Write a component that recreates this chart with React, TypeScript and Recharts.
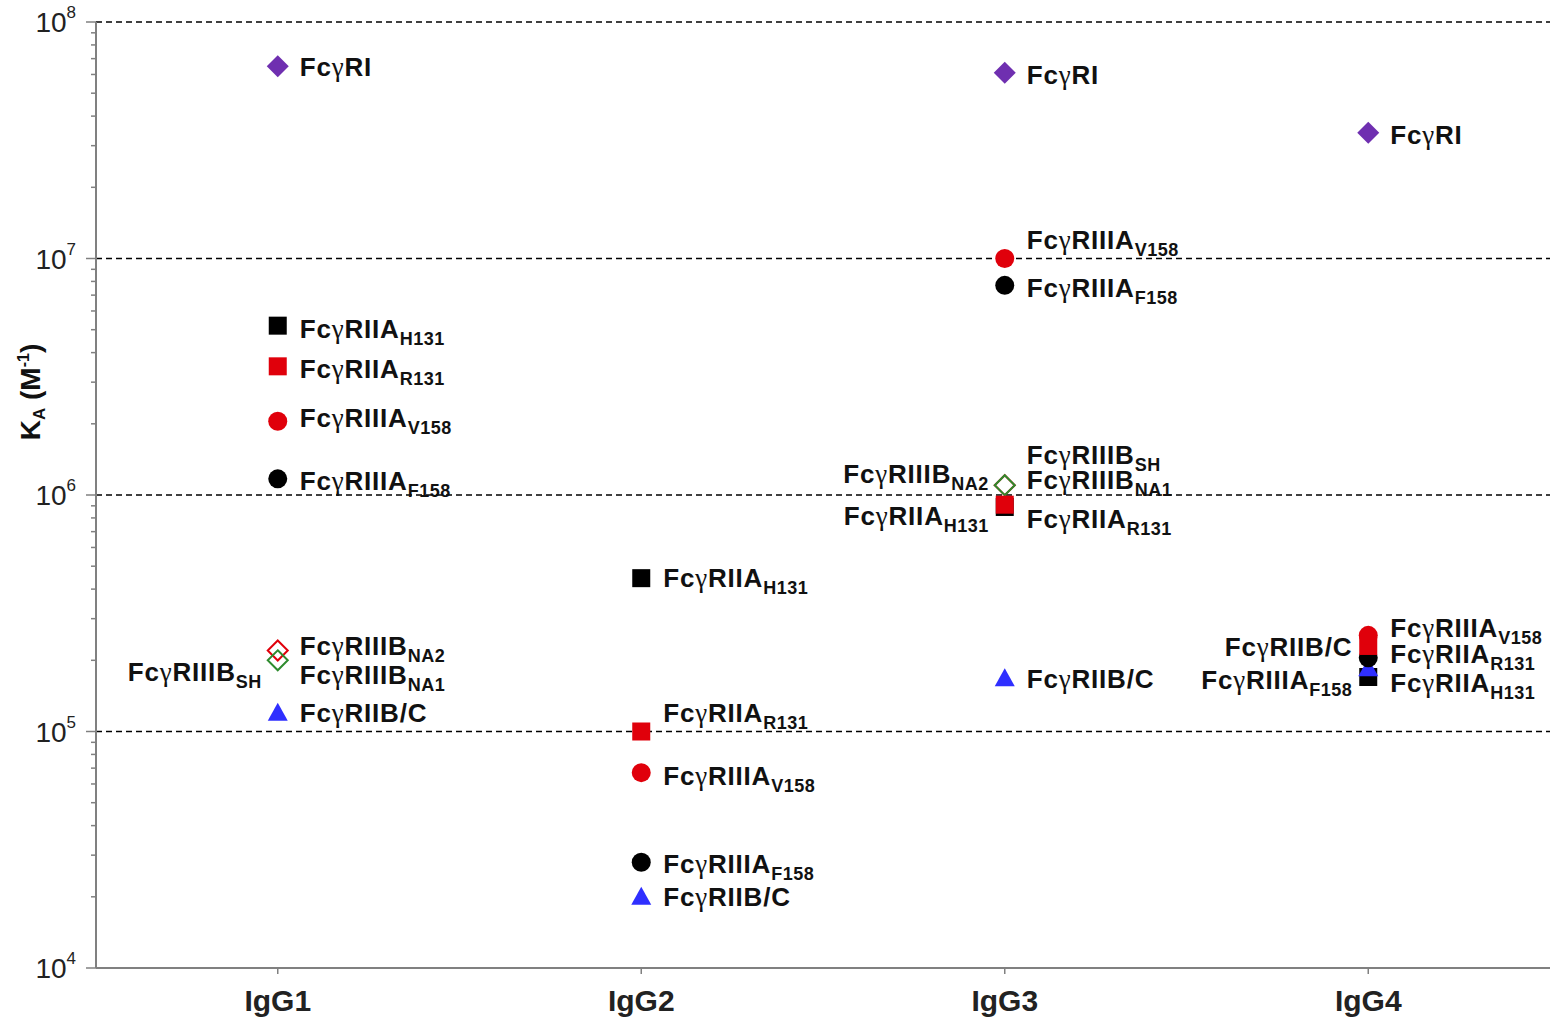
import React from 'react';
import { ScatterChart, Scatter, XAxis, YAxis, ReferenceLine } from 'recharts';

const categories = ['IgG1', 'IgG2', 'IgG3', 'IgG4'];

// affinity K_A (M^-1) for each subclass, null = no point
const fcgRI = [6.5e7, null, 6.1e7, 3.4e7];
const fcgRIIA_H131 = [5.2e6, 4.45e5, 8.9e5, 1.7e5];
const fcgRIIA_R131 = [3.5e6, 1.0e5, 9.1e5, 2.3e5];
const fcgRIIIA_V158 = [2.05e6, 6.7e4, 1.0e7, 2.55e5];
const fcgRIIIA_F158 = [1.17e6, 2.8e4, 7.7e6, 2.05e5];
const fcgRIIBC = [1.2e5, 2.0e4, 1.68e5, 1.85e5];
const fcgRIIIB_NA1 = [2.0e5, null, 1.1e6, null];
const fcgRIIIB_NA2 = [2.2e5, null, 1.1e6, null];
const fcgRIIIB_SH = [2.0e5, null, 1.1e6, null];

const decades = [1e4, 1e5, 1e6, 1e7, 1e8];
const yTicks: number[] = [];
decades.forEach((d, i) => {
  yTicks.push(d);
  if (i < decades.length - 1) for (let m = 2; m <= 9; m++) yTicks.push(d * m);
});

const FONT = '"Liberation Sans", Arial, sans-serif';
const SERIF = '"Liberation Serif", "DejaVu Serif", serif';
const RED = '#e0000b';
const BLACK = '#000';
const BLUE = '#2f2fff';
const PURPLE = '#6f2fb0';
const GREEN = '#2e8b2e';

type Series = {
  key: string;
  main: string; // text after "Fcγ"
  sub?: string;
  values: (number | null)[];
  marker: 'square' | 'circle' | 'diamond' | 'odiamond' | 'triangle' | 'none';
  color: string;
};

// draw order: later ones sit on top
const series: Series[] = [
  { key: 'NA2', main: 'RIIIB', sub: 'NA2', values: fcgRIIIB_NA2, marker: 'odiamond', color: RED },
  { key: 'SH', main: 'RIIIB', sub: 'SH', values: fcgRIIIB_SH, marker: 'none', color: GREEN },
  { key: 'NA1', main: 'RIIIB', sub: 'NA1', values: fcgRIIIB_NA1, marker: 'odiamond', color: GREEN },
  { key: 'H131', main: 'RIIA', sub: 'H131', values: fcgRIIA_H131, marker: 'square', color: BLACK },
  { key: 'IIBC', main: 'RIIB/C', values: fcgRIIBC, marker: 'triangle', color: BLUE },
  { key: 'F158', main: 'RIIIA', sub: 'F158', values: fcgRIIIA_F158, marker: 'circle', color: BLACK },
  { key: 'R131', main: 'RIIA', sub: 'R131', values: fcgRIIA_R131, marker: 'square', color: RED },
  { key: 'V158', main: 'RIIIA', sub: 'V158', values: fcgRIIIA_V158, marker: 'circle', color: RED },
  { key: 'RI', main: 'RI', values: fcgRI, marker: 'diamond', color: PURPLE },
];

// label side and vertical nudge per point
const labelPos: Record<string, [string, number]> = {
  'RI|IgG1': ['r', 1], 'H131|IgG1': ['r', 3], 'R131|IgG1': ['r', 3], 'V158|IgG1': ['r', -3],
  'F158|IgG1': ['r', 2], 'NA2|IgG1': ['r', -5], 'NA1|IgG1': ['r', 15], 'SH|IgG1': ['l', 12],
  'IIBC|IgG1': ['r', 0],
  'H131|IgG2': ['r', 0], 'R131|IgG2': ['r', -19], 'V158|IgG2': ['r', 3], 'F158|IgG2': ['r', 2],
  'IIBC|IgG2': ['r', 0],
  'RI|IgG3': ['r', 2], 'V158|IgG3': ['r', -19], 'F158|IgG3': ['r', 3], 'NA1|IgG3': ['r', -5],
  'SH|IgG3': ['r', -30], 'NA2|IgG3': ['l', -11], 'H131|IgG3': ['l', 9], 'R131|IgG3': ['r', 14],
  'IIBC|IgG3': ['r', 1],
  'RI|IgG4': ['r', 2], 'V158|IgG4': ['r', -7], 'R131|IgG4': ['r', 8], 'H131|IgG4': ['r', 6],
  'IIBC|IgG4': ['l', -21], 'F158|IgG4': ['l', 22],
};

const toData = (vals: (number | null)[]) =>
  categories
    .map((c, i) => ({ x: i + 1, y: vals[i], cat: c }))
    .filter((d) => d.y != null);

const Marker = ({ kind, cx, cy, color }: any) => {
  switch (kind) {
    case 'square':
      return <rect x={cx - 9} y={cy - 9} width={18} height={18} fill={color} />;
    case 'circle':
      return <circle cx={cx} cy={cy} r={9.5} fill={color} />;
    case 'diamond':
      return <polygon points={`${cx},${cy - 11} ${cx + 11},${cy} ${cx},${cy + 11} ${cx - 11},${cy}`} fill={color} />;
    case 'odiamond':
      return (
        <polygon
          points={`${cx},${cy - 10} ${cx + 10},${cy} ${cx},${cy + 10} ${cx - 10},${cy}`}
          fill="none"
          stroke={color}
          strokeWidth={2}
        />
      );
    case 'triangle':
      return <polygon points={`${cx},${cy - 10} ${cx + 10},${cy + 8} ${cx - 10},${cy + 8}`} fill={color} />;
    default:
      return null;
  }
};

const makeShape = (s: Series) => (props: any) => {
  const { cx, cy, payload } = props;
  const pos = labelPos[`${s.key}|${payload.cat}`] || ['r', 0];
  const right = pos[0] === 'r';
  return (
    <g>
      <Marker kind={s.marker} cx={cx} cy={cy} color={s.color} />
      <text
        x={right ? cx + 22 : cx - 16}
        y={cy + pos[1] + 9}
        textAnchor={right ? 'start' : 'end'}
        fontFamily={FONT}
        fontWeight="bold"
        fontSize={26}
        letterSpacing={0.8}
        fill="#111"
      >
        Fc
        <tspan fontFamily={SERIF} fontWeight="normal" fontSize={27}>γ</tspan>
        {s.main}
        {s.sub && (
          <tspan fontSize={18} dy={7} letterSpacing={0.5}>
            {s.sub}
          </tspan>
        )}
      </text>
    </g>
  );
};

const YTick = ({ x, y, payload }: any) => {
  const v = payload.value;
  const exp = Math.round(Math.log10(v));
  const major = Math.abs(Math.pow(10, exp) - v) < 1e-6 * v;
  return (
    <g>
      <line x1={x} x2={x - (major ? 10 : 5)} y1={y} y2={y} stroke="#808080" strokeWidth={1.5} />
      {major && (
        <text x={x - 20} y={y + 10} textAnchor="end" fontFamily={FONT} fontSize={28} fill="#222">
          10
          <tspan fontSize={17} dy={-14}>
            {exp}
          </tspan>
        </text>
      )}
    </g>
  );
};

const XTick = ({ x, y, payload }: any) => (
  <g>
    <line x1={x} x2={x} y1={y} y2={y + 6} stroke="#808080" strokeWidth={1.5} />
    <text x={x} y={y + 43} textAnchor="middle" fontFamily={FONT} fontWeight="bold" fontSize={30} fill="#222">
      {categories[payload.value - 1]}
    </text>
  </g>
);

const YLabel = () => (
  <text
    transform="rotate(-90, 40, 392)"
    x={40}
    y={392}
    textAnchor="middle"
    fontFamily={FONT}
    fontWeight="bold"
    fontSize={28}
    fill="#111"
  >
    K
    <tspan fontSize={17} dy={5}>A</tspan>
    <tspan dy={-5}> (M</tspan>
    <tspan fontSize={16} dy={-11}>-1</tspan>
    <tspan dy={11}>)</tspan>
  </text>
);

export default function App() {
  return (
    <div style={{ position: 'absolute', left: 0, top: 0, background: '#fff' }}>
      <ScatterChart width={1550} height={1021} margin={{ top: 22, right: 0, bottom: 0, left: 0 }}>
        <XAxis
          type="number"
          dataKey="x"
          domain={[0.5, 4.5]}
          ticks={[1, 2, 3, 4]}
          interval={0}
          height={53}
          tickSize={0}
          tickMargin={0}
          tick={<XTick />}
          axisLine={{ stroke: '#808080', strokeWidth: 2 }}
          tickLine={false}
        />
        <YAxis
          type="number"
          dataKey="y"
          scale="log"
          domain={[1e4, 1e8]}
          allowDataOverflow
          ticks={yTicks}
          interval={0}
          width={96}
          tickSize={0}
          tickMargin={0}
          tick={<YTick />}
          tickLine={false}
          axisLine={{ stroke: '#808080', strokeWidth: 2 }}
          label={{ content: <YLabel /> }}
        />
        {decades.slice(1).map((d) => (
          <ReferenceLine key={d} y={d} stroke="#000" strokeWidth={1.5} strokeDasharray="6 4" />
        ))}
        {series.map((s) => (
          <Scatter
            key={s.key}
            name={s.key}
            data={toData(s.values)}
            shape={makeShape(s)}
            isAnimationActive={false}
          />
        ))}
      </ScatterChart>
    </div>
  );
}
